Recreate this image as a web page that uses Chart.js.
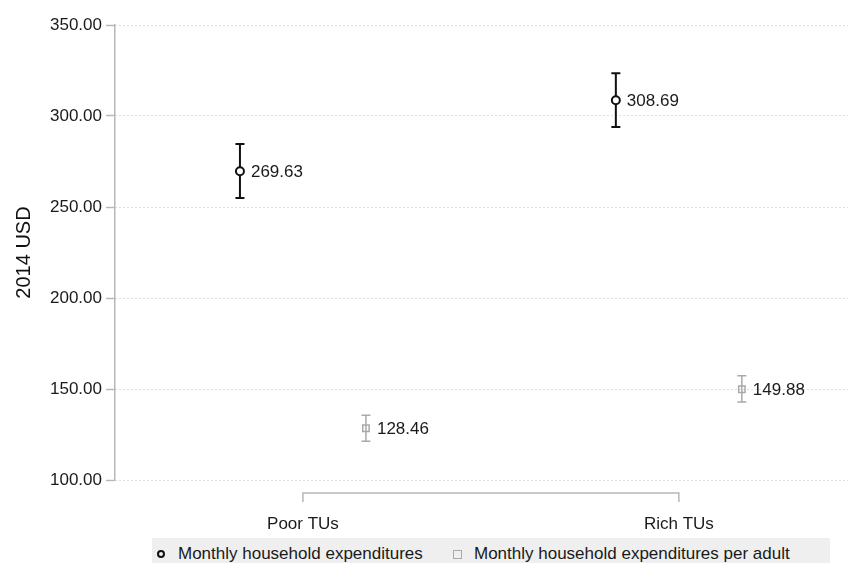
<!DOCTYPE html>
<html>
<head>
<meta charset="utf-8">
<script src="https://cdn.jsdelivr.net/npm/chart.js@4.4.1/dist/chart.umd.min.js"></script>
<style>
  html, body { margin: 0; padding: 0; background: #fff; }
  #wrap { position: relative; width: 860px; height: 563px; overflow: hidden; }
  #legend {
    position: absolute; left: 152px; top: 538px; width: 678px; height: 30px;
    background: #efefef;
    font-family: "Liberation Sans", Arial, sans-serif; font-size: 17px; color: #1a1a1a;
  }
  #legend .item { position: absolute; top: 6px; white-space: nowrap; }
  #legend .mk { position: absolute; box-sizing: border-box; }
  #legend .circle { width: 8px; height: 8px; border: 2px solid #111; border-radius: 50%; }
  #legend .square { width: 9px; height: 9px; border: 1.5px solid #aaa; }
</style>
</head>
<body>
<div id="wrap">
  <canvas id="chart" width="860" height="563"></canvas>
  <div id="legend"></div>
</div>
<script>
// Categories and series
const categories = ['Poor TUs', 'Rich TUs'];
const seriesNames = ['Monthly household expenditures', 'Monthly household expenditures per adult'];

// Means with confidence intervals
const hhMean = [269.63, 308.69];
const hhLow = [255.0, 293.9];
const hhHigh = [284.6, 323.5];

const adultMean = [128.46, 149.88];
const adultLow = [121.3, 142.8];
const adultHigh = [135.6, 157.3];

// Y axis ticks
const yMin = 100, yMax = 350, yStep = 50;

const FONT = '"Liberation Sans", Arial, sans-serif';
const black = '#111111';
const grey = '#a9a9a9';
const axisGrey = '#b8b8b8';
const dodge = 0.1676; // horizontal offset of the two series around each category

function points(means, shift) {
  return means.map((v, i) => ({ x: i + shift, y: v }));
}

const ciData = [
  { low: hhLow, high: hhHigh, color: black, width: 2 },
  { low: adultLow, high: adultHigh, color: grey, width: 1.5 }
];

// Draw error bars behind the markers
const errorBars = {
  id: 'errorBars',
  beforeDatasetsDraw(chart) {
    const ctx = chart.ctx;
    const y = chart.scales.y;
    ciData.forEach((ci, d) => {
      const meta = chart.getDatasetMeta(d);
      meta.data.forEach((pt, i) => {
        const top = y.getPixelForValue(ci.high[i]);
        const bot = y.getPixelForValue(ci.low[i]);
        ctx.save();
        ctx.strokeStyle = ci.color;
        ctx.lineWidth = ci.width;
        ctx.beginPath();
        ctx.moveTo(pt.x, top); ctx.lineTo(pt.x, bot);
        ctx.moveTo(pt.x - 4.5, top); ctx.lineTo(pt.x + 4.5, top);
        ctx.moveTo(pt.x - 4.5, bot); ctx.lineTo(pt.x + 4.5, bot);
        ctx.stroke();
        ctx.restore();
      });
    });
  }
};

// Value labels to the right of each marker
const valueLabels = {
  id: 'valueLabels',
  afterDatasetsDraw(chart) {
    const ctx = chart.ctx;
    ctx.save();
    ctx.font = '17px ' + FONT;
    ctx.fillStyle = '#1a1a1a';
    ctx.textBaseline = 'middle';
    ctx.textAlign = 'left';
    chart.data.datasets.forEach((ds, d) => {
      chart.getDatasetMeta(d).data.forEach((pt, i) => {
        ctx.fillText(ds.data[i].y.toFixed(2), pt.x + 11, pt.y + 1);
      });
    });
    ctx.restore();
  }
};

// Stata style x axis: a bracket between the first and last category
const xBracket = {
  id: 'xBracket',
  afterDraw(chart) {
    const ctx = chart.ctx;
    const x = chart.scales.x;
    const x0 = x.getPixelForValue(0);
    const x1 = x.getPixelForValue(categories.length - 1);
    const yy = chart.chartArea.bottom + 13;
    ctx.save();
    ctx.strokeStyle = axisGrey;
    ctx.lineWidth = 1.5;
    ctx.beginPath();
    ctx.moveTo(x0, yy + 9); ctx.lineTo(x0, yy); ctx.lineTo(x1, yy); ctx.lineTo(x1, yy + 9);
    ctx.stroke();
    ctx.restore();
  }
};

new Chart(document.getElementById('chart'), {
  type: 'scatter',
  data: {
    datasets: [
      {
        label: seriesNames[0],
        data: points(hhMean, -dodge),
        pointStyle: 'circle',
        pointRadius: 4,
        borderWidth: 2,
        borderColor: black,
        backgroundColor: '#ffffff'
      },
      {
        label: seriesNames[1],
        data: points(adultMean, dodge),
        pointStyle: 'rect',
        pointRadius: 4.5,
        borderWidth: 1.5,
        borderColor: grey,
        backgroundColor: 'rgba(0,0,0,0)'
      }
    ]
  },
  options: {
    responsive: false,
    animation: false,
    layout: { padding: { top: 25, right: 12, bottom: 0, left: 0 } },
    plugins: {
      legend: { display: false },
      tooltip: { enabled: false }
    },
    scales: {
      x: {
        type: 'linear',
        min: -0.5,
        max: 1.45,
        grid: { display: false },
        border: { display: false },
        afterBuildTicks(scale) {
          scale.ticks = categories.map((c, i) => ({ value: i }));
        },
        afterFit(scale) { scale.height = 83; },
        ticks: {
          padding: 26,
          color: '#1a1a1a',
          font: { family: FONT, size: 17 },
          callback: (v) => categories[v]
        }
      },
      y: {
        min: yMin,
        max: yMax,
        afterFit(scale) { scale.width = 115; },
        ticks: {
          stepSize: yStep,
          padding: 4,
          color: '#1a1a1a',
          font: { family: FONT, size: 17 },
          callback: (v) => v.toFixed(2)
        },
        grid: {
          color: '#bdbdbd',
          lineWidth: 1,
          tickLength: 9,
          tickColor: axisGrey,
          tickWidth: 1.5,
          tickBorderDash: []
        },
        border: { color: axisGrey, width: 1.5, dash: [1, 3] },
        title: {
          display: true,
          text: '2014 USD',
          color: '#111',
          font: { family: FONT, size: 20 },
          padding: { top: 12, bottom: 0 }
        }
      }
    }
  },
  plugins: [errorBars, valueLabels, xBracket]
});

// Legend strip at the bottom
const legend = document.getElementById('legend');
const legendItems = [
  { name: seriesNames[0], cls: 'circle', mx: 5, tx: 26 },
  { name: seriesNames[1], cls: 'square', mx: 301, tx: 322 }
];
legendItems.forEach(it => {
  const mk = document.createElement('div');
  mk.className = 'mk ' + it.cls;
  mk.style.left = it.mx + 'px';
  mk.style.top = '12px';
  legend.appendChild(mk);
  const t = document.createElement('div');
  t.className = 'item';
  t.style.left = it.tx + 'px';
  t.textContent = it.name;
  legend.appendChild(t);
});
</script>
</body>
</html>
